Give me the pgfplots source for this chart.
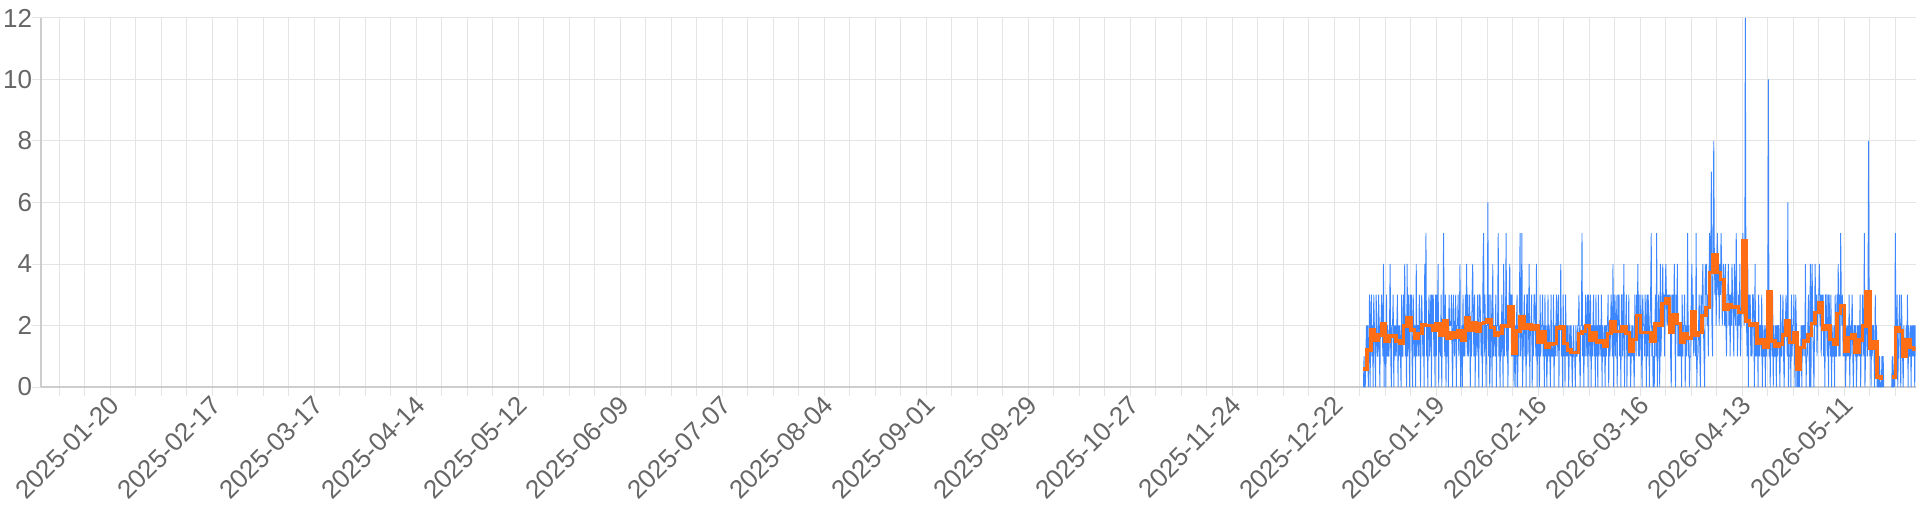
\documentclass[border=0pt]{standalone}
\usepackage{pgfplots}
\pgfplotsset{compat=1.18}
\usepackage{pgfplotstable}
\usepackage{fontspec}
\setmainfont{Liberation Sans}
\definecolor{gridc}{RGB}{228,228,228}
\definecolor{axc}{RGB}{205,205,205}
\definecolor{txt}{RGB}{102,102,102}
\definecolor{blueline}{RGB}{60,135,255}
\definecolor{orangeline}{RGB}{255,109,20}

% samples (6 per day) starting 2025-12-30 (day 363 counted from 2025-01-01)
\pgfplotstableread[row sep=\\, header=false]{
0\\1\\0\\0\\1\\2\\
1\\2\\0\\1\\3\\0\\
2\\3\\1\\2\\0\\3\\
2\\1\\0\\3\\2\\1\\
1\\3\\2\\0\\2\\2\\
3\\2\\1\\4\\0\\2\\
2\\0\\3\\1\\2\\1\\
1\\2\\4\\1\\0\\2\\
2\\3\\0\\2\\1\\2\\
1\\2\\3\\0\\2\\1\\
2\\1\\0\\3\\1\\1\\
3\\2\\4\\1\\2\\0\\
4\\1\\3\\2\\0\\3\\
2\\3\\1\\0\\3\\2\\
1\\2\\0\\4\\1\\2\\
2\\1\\3\\2\\0\\2\\
3\\2\\1\\2\\0\\4\\
2\\5\\1\\2\\0\\2\\
3\\1\\2\\3\\0\\3\\
2\\3\\1\\2\\0\\3\\
1\\3\\2\\4\\0\\2\\
2\\1\\3\\0\\2\\2\\
5\\2\\1\\3\\0\\2\\
1\\2\\0\\3\\2\\2\\
2\\3\\1\\0\\3\\2\\
1\\2\\3\\0\\2\\2\\
3\\1\\2\\4\\0\\1\\
2\\0\\3\\1\\2\\1\\
3\\2\\4\\1\\3\\1\\
2\\3\\0\\2\\1\\3\\
4\\2\\1\\3\\0\\2\\
2\\1\\3\\2\\0\\3\\
3\\2\\1\\2\\0\\4\\
5\\1\\3\\2\\0\\2\\
2\\6\\1\\3\\0\\1\\
3\\2\\0\\4\\1\\2\\
2\\1\\3\\0\\2\\2\\
5\\1\\2\\0\\2\\1\\
3\\2\\0\\4\\1\\2\\
2\\5\\1\\2\\0\\2\\
3\\4\\2\\3\\1\\3\\
1\\2\\0\\1\\2\\0\\
2\\3\\0\\2\\1\\3\\
5\\1\\2\\5\\0\\1\\
2\\3\\1\\2\\0\\3\\
3\\1\\2\\4\\0\\2\\
2\\3\\0\\2\\1\\3\\
3\\2\\1\\4\\0\\2\\
1\\2\\0\\3\\1\\2\\
2\\3\\1\\2\\0\\3\\
1\\2\\0\\1\\3\\1\\
2\\1\\0\\3\\1\\1\\
1\\3\\0\\2\\1\\2\\
3\\1\\2\\3\\0\\2\\
2\\4\\1\\2\\0\\3\\
1\\2\\0\\3\\1\\2\\
1\\2\\0\\1\\2\\1\\
2\\1\\0\\1\\2\\1\\
1\\0\\2\\1\\1\\2\\
2\\3\\1\\0\\2\\2\\
5\\1\\2\\0\\2\\1\\
3\\2\\1\\3\\0\\3\\
2\\1\\3\\0\\2\\1\\
2\\3\\1\\2\\0\\3\\
1\\2\\0\\3\\1\\2\\
2\\1\\3\\0\\2\\1\\
1\\2\\0\\2\\1\\2\\
2\\3\\0\\2\\1\\2\\
3\\2\\1\\4\\0\\3\\
2\\1\\3\\2\\0\\3\\
2\\3\\1\\2\\0\\3\\
3\\1\\2\\4\\0\\2\\
2\\3\\0\\2\\1\\3\\
1\\2\\0\\1\\2\\1\\
2\\1\\0\\3\\2\\1\\
3\\2\\4\\1\\3\\1\\
2\\3\\1\\0\\3\\2\\
2\\1\\3\\2\\0\\3\\
1\\3\\2\\0\\2\\3\\
5\\1\\2\\0\\1\\0\\
2\\3\\1\\5\\0\\1\\
3\\2\\0\\4\\1\\2\\
3\\4\\2\\3\\1\\3\\
4\\3\\2\\3\\2\\3\\
2\\3\\1\\0\\3\\2\\
3\\2\\4\\2\\0\\3\\
2\\4\\1\\2\\1\\2\\
1\\2\\0\\3\\1\\2\\
2\\3\\0\\2\\1\\2\\
5\\1\\2\\0\\1\\1\\
3\\4\\2\\3\\1\\2\\
2\\1\\5\\0\\1\\1\\
2\\3\\1\\0\\3\\2\\
3\\4\\2\\1\\0\\4\\
3\\4\\2\\3\\1\\3\\
5\\3\\4\\7\\2\\1\\
5\\8\\4\\3\\4\\2\\
4\\5\\3\\4\\2\\4\\
3\\5\\4\\2\\3\\4\\
3\\2\\4\\2\\1\\3\\
3\\4\\2\\3\\1\\3\\
2\\4\\3\\2\\1\\4\\
3\\2\\5\\3\\1\\2\\
3\\2\\4\\1\\2\\3\\
4\\5\\3\\2\\3\\12\\
3\\2\\1\\4\\0\\3\\
2\\3\\1\\2\\1\\3\\
3\\2\\0\\4\\1\\2\\
1\\2\\0\\3\\1\\2\\
2\\1\\3\\0\\2\\1\\
1\\2\\0\\2\\1\\2\\
3\\10\\1\\2\\0\\3\\
2\\1\\3\\0\\2\\1\\
1\\2\\0\\2\\1\\2\\
2\\1\\0\\3\\1\\1\\
2\\3\\1\\0\\2\\2\\
3\\2\\1\\6\\0\\1\\
1\\2\\0\\3\\1\\2\\
2\\3\\1\\0\\3\\2\\
0\\1\\0\\1\\0\\1\\
1\\2\\0\\2\\1\\2\\
2\\1\\4\\0\\1\\1\\
2\\3\\1\\0\\4\\0\\
3\\4\\2\\1\\0\\2\\
4\\2\\3\\1\\2\\3\\
3\\4\\2\\3\\1\\3\\
2\\3\\1\\2\\0\\3\\
3\\2\\1\\3\\0\\3\\
2\\1\\3\\0\\2\\1\\
1\\2\\0\\3\\1\\1\\
3\\2\\4\\1\\3\\1\\
5\\3\\2\\3\\1\\2\\
1\\2\\0\\1\\2\\1\\
2\\1\\3\\0\\2\\1\\
2\\3\\1\\0\\2\\2\\
1\\2\\0\\1\\2\\1\\
2\\1\\3\\0\\2\\1\\
3\\2\\1\\5\\0\\1\\
3\\2\\1\\3\\8\\2\\
1\\2\\0\\2\\1\\2\\
2\\1\\0\\3\\1\\2\\
0\\1\\0\\0\\1\\0\\
0\\0\\1\\0\\1\\0\\
nan\\nan\\nan\\nan\\nan\\nan\\
nan\\nan\\nan\\nan\\nan\\nan\\
0\\1\\0\\0\\1\\0\\
5\\2\\1\\3\\0\\1\\
2\\3\\1\\0\\3\\2\\
1\\0\\2\\1\\1\\1\\
2\\1\\3\\0\\2\\1\\
1\\2\\0\\2\\1\\2\\
1\\2\\0\\2\\
}\bluedata

\begin{document}
\begin{tikzpicture}
\useasboundingbox (-20.5bp,-62.5bp) rectangle (939.5bp,193.5bp);
\begin{axis}[
  at={(0,0)}, anchor=south west,
  scale only axis, width=937.35bp, height=184.5bp,
  xmin=0, xmax=514.6, ymin=0, ymax=12,
  axis x line*=bottom, axis y line*=left,
  axis line style={-, draw=axc, line width=0.6bp},
  xtick={19,47,...,495},
  xticklabels={2025-01-20,2025-02-17,2025-03-17,2025-04-14,2025-05-12,2025-06-09,2025-07-07,2025-08-04,2025-09-01,2025-09-29,2025-10-27,2025-11-24,2025-12-22,2026-01-19,2026-02-16,2026-03-16,2026-04-13,2026-05-11},
  minor xtick={5,12,...,509},
  ytick={0,2,...,12},
  xtick pos=left, ytick pos=left,
  grid=both,
  major grid style={draw=gridc, line width=0.5bp},
  minor grid style={draw=gridc, line width=0.5bp},
  tick align=outside,
  major tick length=4.5bp, minor tick length=4.5bp,
  tick style={draw=gridc, line width=0.5bp},
  every tick label/.append style={font=\fontsize{13bp}{15bp}\selectfont, text=txt},
  xticklabel style={rotate=45, anchor=east, inner sep=0pt, yshift=-3bp},
  yticklabel style={anchor=east, inner sep=0pt, xshift=0.2bp},
  /pgf/number format/assume math mode=true,
  unbounded coords=jump,
]
\addplot[blueline, line width=0.45bp, mark=none] table[x expr={363+\coordindex/6}, y index=0] {\bluedata};
\addplot[orangeline, line width=1.8bp, const plot, mark=none] coordinates {
(363,0.58) (364,1.2) (365,1.85) (366,1.53) (367,1.7) (368,2.04) (369,1.5) (370,1.66) (371,1.66) (372,1.5)
(373,1.41) (374,1.99) (375,2.24) (376,1.85) (377,1.59) (378,1.74) (379,2.02) (380,2.0) (381,2.0) (382,1.86)
(383,2.04) (384,1.7) (385,2.15) (386,1.59) (387,1.75) (388,1.63) (389,1.83) (390,1.52) (391,2.26) (392,1.86)
(393,2.08) (394,1.83) (395,2.07) (396,2.1) (397,2.17) (398,1.93) (399,1.7) (400,1.75) (401,1.99) (402,1.99)
(403,2.6) (404,1.09) (405,1.83) (406,2.28) (407,1.91) (408,2.02) (409,1.88) (410,1.99) (411,1.45) (412,1.8)
(413,1.28) (414,1.39) (415,1.41) (416,1.91) (417,1.96) (418,1.42) (419,1.2) (420,1.12) (421,1.12) (422,1.74)
(423,1.8) (424,1.99) (425,1.52) (426,1.77) (427,1.45) (428,1.5) (429,1.34) (430,1.74) (431,2.13) (432,1.8)
(433,1.8) (434,1.96) (435,1.75) (436,1.17) (437,1.55) (438,2.32) (439,1.77) (440,1.77) (441,1.77) (442,1.5)
(443,2.07) (444,2.02) (445,2.72) (446,2.86) (447,1.77) (448,2.34) (449,2.07) (450,1.45) (451,1.74) (452,1.59)
(453,2.46) (454,1.7) (455,1.77) (456,2.32) (457,2.59) (458,3.73) (459,4.3) (460,3.73) (461,3.49) (462,2.53)
(463,2.67) (464,2.61) (465,2.61) (466,2.42) (467,4.76) (468,2.15) (469,2.02) (470,2.04) (471,1.41) (472,1.55)
(473,1.28) (474,3.1) (475,1.5) (476,1.34) (477,1.39) (478,1.7) (479,2.15) (480,1.45) (481,1.77) (482,0.58)
(483,1.28) (484,1.5) (485,1.7) (486,2.07) (487,2.42) (488,2.75) (489,1.88) (490,1.99) (491,1.55) (492,1.39)
(493,2.39) (494,2.64) (495,1.15) (496,1.59) (497,1.7) (498,1.12) (499,1.52) (500,1.99) (501,3.1) (502,1.26)
(503,1.48) (504,0.33) (505,0.28) (505.7,0.28) (505.8,nan)
(508,0.33) (509,1.93) (510,1.83) (511,0.99) (512,1.52) (513,1.28) (514,1.23) (514.6,1.23)
};
\end{axis}
\end{tikzpicture}
\end{document}
